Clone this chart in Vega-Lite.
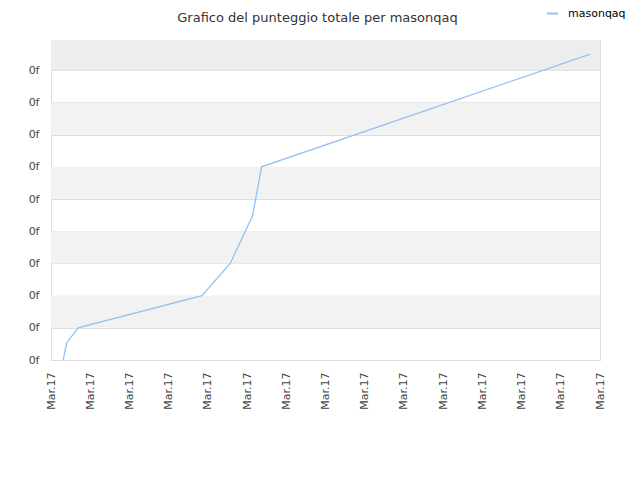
{
  "$schema": "https://vega.github.io/schema/vega-lite/v6.json",
  "autosize": "none",
  "width": 549,
  "height": 320,
  "padding": {"left": 51, "top": 40, "right": 40, "bottom": 120},
  "background": "#ffffff",
  "title": {
    "text": "Grafico del punteggio totale per masonqaq",
    "font": "DejaVu Sans",
    "fontSize": 13,
    "fontWeight": "normal",
    "color": "#333333",
    "anchor": "middle",
    "dx": -8,
    "dy": 34,
    "offset": 16
  },
  "datasets": {
    "bands": [
      {"y0": 1, "y1": 2, "shade": "light"},
      {"y0": 3, "y1": 4, "shade": "light"},
      {"y0": 5, "y1": 6, "shade": "light"},
      {"y0": 7, "y1": 8, "shade": "light"},
      {"y0": 9, "y1": 9.94, "shade": "dark"}
    ],
    "score": [
      {"t": 0.31, "punteggio": 0, "series": "masonqaq"},
      {"t": 0.40, "punteggio": 0.53, "series": "masonqaq"},
      {"t": 0.69, "punteggio": 1.0, "series": "masonqaq"},
      {"t": 3.85, "punteggio": 2.0, "series": "masonqaq"},
      {"t": 4.57, "punteggio": 3.0, "series": "masonqaq"},
      {"t": 5.14, "punteggio": 4.48, "series": "masonqaq"},
      {"t": 5.37, "punteggio": 6.0, "series": "masonqaq"},
      {"t": 13.75, "punteggio": 9.5, "series": "masonqaq"}
    ]
  },
  "layer": [
    {
      "data": {"name": "bands"},
      "mark": {"type": "rect"},
      "encoding": {
        "y": {
          "field": "y0",
          "type": "quantitative",
          "scale": {"domain": [0, 9.94], "nice": false, "zero": false},
          "axis": {"title": null, "values": [0, 1, 2, 3, 4, 5, 6, 7, 8, 9], "labelExpr": "'0f'"}
        },
        "y2": {"field": "y1"},
        "fill": {
          "field": "shade",
          "type": "nominal",
          "scale": {"domain": ["light", "dark"], "range": ["#f2f2f2", "#ededed"]},
          "legend": null
        }
      }
    },
    {
      "data": {"name": "score"},
      "mark": {"type": "line", "strokeWidth": 1.3, "interpolate": "linear"},
      "encoding": {
        "x": {
          "field": "t",
          "type": "quantitative",
          "scale": {"domain": [0, 14], "nice": false, "zero": false},
          "axis": {
            "title": null,
            "values": [0, 1, 2, 3, 4, 5, 6, 7, 8, 9, 10, 11, 12, 13, 14],
            "labelExpr": "'Mar.17'",
            "labelAngle": 270,
            "labelAlign": "right",
            "labelBaseline": "middle",
            "labelPadding": 12,
            "grid": false
          }
        },
        "y": {
          "field": "punteggio",
          "type": "quantitative",
          "axis": {"title": null, "values": [0, 1, 2, 3, 4, 5, 6, 7, 8, 9], "labelExpr": "'0f'"}
        },
        "stroke": {
          "field": "series",
          "type": "nominal",
          "scale": {"range": ["#92c1f2"]},
          "legend": {
            "title": null,
            "orient": "none",
            "legendX": 495,
            "legendY": -33,
            "padding": 0,
            "symbolType": "stroke",
            "symbolSize": 120,
            "symbolStrokeWidth": 2,
            "labelOffset": 9,
            "labelFont": "DejaVu Sans",
            "labelFontSize": 11,
            "labelColor": "#000000"
          }
        }
      }
    }
  ],
  "config": {
    "view": {"stroke": "#dddddd"},
    "axis": {
      "ticks": false,
      "gridColor": "#dddddd",
      "domainColor": "#dddddd",
      "labelFont": "DejaVu Sans",
      "labelFontSize": 11,
      "labelColor": "#444444"
    },
    "axisY": {"grid": true, "labelPadding": 12}
  }
}
